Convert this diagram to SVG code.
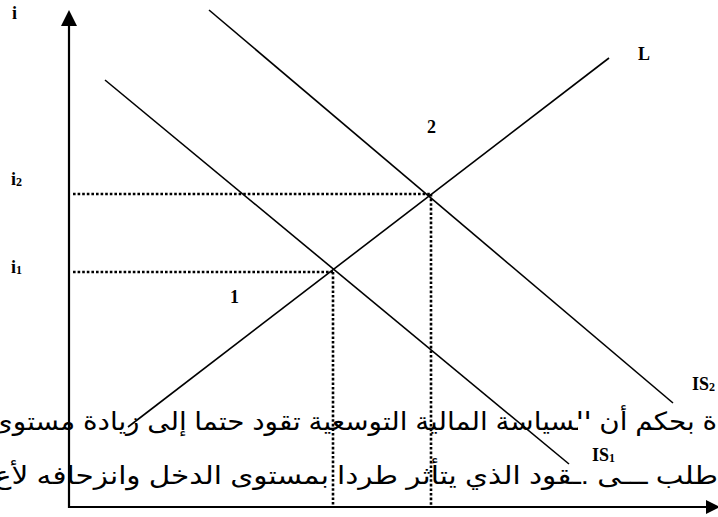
<svg xmlns="http://www.w3.org/2000/svg" width="718" height="517" viewBox="0 0 718 517">
<style>
.ax{stroke:#000;stroke-width:2.2;fill:none}
.cv{stroke:#000;stroke-width:1.6;fill:none}
.dt{stroke:#000;stroke-width:2.6;stroke-dasharray:2.6 2;fill:none}
.lb{font-family:"Liberation Serif","Times New Roman",serif;font-weight:bold;font-size:18px;fill:#000}
.sb{font-size:12px}
.ar{font-family:"Liberation Sans","DejaVu Sans","Noto Sans",sans-serif;font-size:25px;fill:#000}
</style>
<rect width="718" height="517" fill="#fff"/>
<g id="text-lines">
<text class="ar" x="354" y="430" text-anchor="middle" direction="rtl" textLength="726" lengthAdjust="spacingAndGlyphs">ة بحكم أن السياسة المالية التوسعية تقود حتما إلى زيادة مستوى</text>
<text class="ar" x="356" y="484" text-anchor="middle" direction="rtl" textLength="724" lengthAdjust="spacingAndGlyphs">طلب ـــى .ـقود الذي يتأثر طردا بمستوى الدخل وانزحافه لأع</text>
<rect x="578" y="419" width="21" height="14" fill="#fff"/>
</g>
<g id="connectors">
<line class="dt" x1="73" y1="194" x2="431" y2="194"/>
<line class="dt" x1="73" y1="272" x2="333" y2="272"/>
<line class="dt" x1="333" y1="272" x2="333" y2="506"/>
<line class="dt" x1="431" y1="194" x2="431" y2="506"/>
</g>
<g id="curve-L"><line class="cv" x1="128" y1="427" x2="609" y2="58"/></g>
<g id="curve-IS1"><line class="cv" x1="105" y1="80" x2="569" y2="464"/></g>
<g id="curve-IS2"><line class="cv" x1="209" y1="10" x2="673" y2="403"/></g>
<g id="axes">
<line class="ax" x1="69" y1="22" x2="69" y2="508"/>
<polygon points="69,10 61,26 77,26" fill="#000"/>
<line class="ax" x1="68" y1="507" x2="708" y2="507"/>
<polygon points="720,507 706,500 706,514" fill="#000"/>
</g>
<g id="labels">
<text class="lb" x="12" y="19">i</text>
<text class="lb" x="11" y="185">i<tspan class="sb" dy="1">2</tspan></text>
<text class="lb" x="11" y="273">i<tspan class="sb" dy="1">1</tspan></text>
<text class="lb" x="638" y="60">L</text>
<text class="lb" x="427" y="133">2</text>
<text class="lb" x="230" y="303">1</text>
<text class="lb" x="692" y="390">IS<tspan class="sb" dy="1">2</tspan></text>
<text class="lb" x="592" y="461">IS<tspan class="sb" dy="1">1</tspan></text>
</g>
</svg>
